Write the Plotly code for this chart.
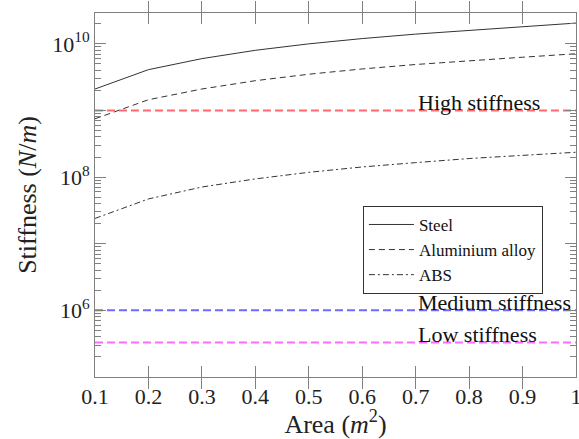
import math
import plotly.graph_objects as go

area = [0.1, 0.2, 0.3, 0.4, 0.5, 0.6, 0.7, 0.8, 0.9, 1.0]
steel = [2.1e9, 4.1e9, 6.0e9, 8.0e9, 1.0e10, 1.2e10, 1.4e10, 1.6e10, 1.8e10, 2.05e10]
aluminium = [7.5e8, 1.45e9, 2.1e9, 2.8e9, 3.5e9, 4.2e9, 4.9e9, 5.6e9, 6.3e9, 7.1e9]
abs_vals = [2.4e7, 4.7e7, 7.1e7, 9.4e7, 1.18e8, 1.42e8, 1.65e8, 1.9e8, 2.12e8, 2.36e8]

threshold_names = ["High stiffness", "Medium stiffness", "Low stiffness"]
threshold_values = [1e9, 1e6, 3.3e5]
threshold_colors = ["#ff6b6b", "#6b6bff", "#ff6bff"]
label_x = 0.7

major_ticks = [1e6, 1e8, 1e10]
major_text = ["10<sup>6</sup>", "10<sup>8</sup>", "10<sup>10</sup>"]
x_ticks = [0.1, 0.2, 0.3, 0.4, 0.5, 0.6, 0.7, 0.8, 0.9, 1.0]
x_text = ["0.1", "0.2", "0.3", "0.4", "0.5", "0.6", "0.7", "0.8", "0.9", "1"]

FONT = "Liberation Serif"
AX = "#808080"

fig = go.Figure()
fig.add_trace(go.Scatter(x=area, y=steel, mode="lines", name="Steel",
                         line=dict(color="#333333", width=1)))
fig.add_trace(go.Scatter(x=area, y=aluminium, mode="lines", name="Aluminium alloy",
                         line=dict(color="#333333", width=1, dash="6px,4px")))
fig.add_trace(go.Scatter(x=area, y=abs_vals, mode="lines", name="ABS",
                         line=dict(color="#333333", width=1, dash="6px,3px,2px,3px")))

for name, val, col in zip(threshold_names, threshold_values, threshold_colors):
    fig.add_trace(go.Scatter(x=[area[0], area[-1]], y=[val, val], mode="lines",
                             showlegend=False, hoverinfo="skip",
                             line=dict(color=col, width=2, dash="8px,4px")))
    fig.add_annotation(x=label_x, y=math.log10(val), xref="x", yref="y", text=name,
                       showarrow=False, xanchor="left", yanchor="middle", yshift=8,
                       font=dict(family=FONT, size=22, color="#111111"))

minor_vals = []
for e in range(5, 11):
    for m in range(2, 10):
        v = m * 10 ** e
        if v < 2.9e10:
            minor_vals.append(v)
decades = [10 ** e for e in range(5, 11)]

yrange = [5, 10.463]

fig.update_layout(
    width=579, height=439,
    margin=dict(l=95, r=3, t=13, b=62),
    paper_bgcolor="white", plot_bgcolor="white",
    font=dict(family=FONT, size=22, color="#222222"),
    showlegend=True,
    legend=dict(x=0.557, y=0.47, xanchor="left", yanchor="top",
                bgcolor="white", bordercolor="#333333", borderwidth=1,
                font=dict(family=FONT, size=17, color="#111111"),
                itemwidth=45, tracegroupgap=0),
    xaxis=dict(range=[0.1, 1.0], tickvals=x_ticks, ticktext=x_text,
               ticks="inside", ticklen=11, tickcolor=AX, showline=True,
               linecolor=AX, linewidth=1, mirror="allticks", showgrid=False,
               zeroline=False, tickfont=dict(size=22), automargin=False,
               ticklabeloverflow="allow",
               title=dict(text="Area (<i>m</i><sup>2</sup>)", font=dict(size=26), standoff=0)),
    yaxis=dict(type="log", range=yrange, tickvals=major_ticks, ticktext=major_text,
               ticks="inside", ticklen=11, tickcolor=AX, showline=True,
               linecolor=AX, linewidth=1, mirror="allticks", showgrid=False,
               zeroline=False, tickfont=dict(size=22), automargin=False,
               title=dict(text="Stiffness (<i>N</i>/<i>m</i>)", font=dict(size=26), standoff=8)),
    yaxis2=dict(type="log", range=yrange, overlaying="y", tickvals=minor_vals,
                ticks="inside", ticklen=6, tickcolor=AX, showticklabels=False,
                showline=False, showgrid=False, zeroline=False, mirror="allticks"),
    yaxis3=dict(type="log", range=yrange, overlaying="y", tickvals=decades,
                ticks="inside", ticklen=11, tickcolor=AX, showticklabels=False,
                showline=False, showgrid=False, zeroline=False, mirror="allticks"),
)
fig.add_trace(go.Scatter(x=[area[0]], y=[threshold_values[0]], yaxis="y2", mode="markers",
                         marker=dict(opacity=0), showlegend=False, hoverinfo="skip"))
fig.add_trace(go.Scatter(x=[area[0]], y=[threshold_values[0]], yaxis="y3", mode="markers",
                         marker=dict(opacity=0), showlegend=False, hoverinfo="skip"))

fig.write_html("out.html", config={"displayModeBar": False},
               post_script="document.body.style.margin='0';document.body.style.overflow='hidden';")
